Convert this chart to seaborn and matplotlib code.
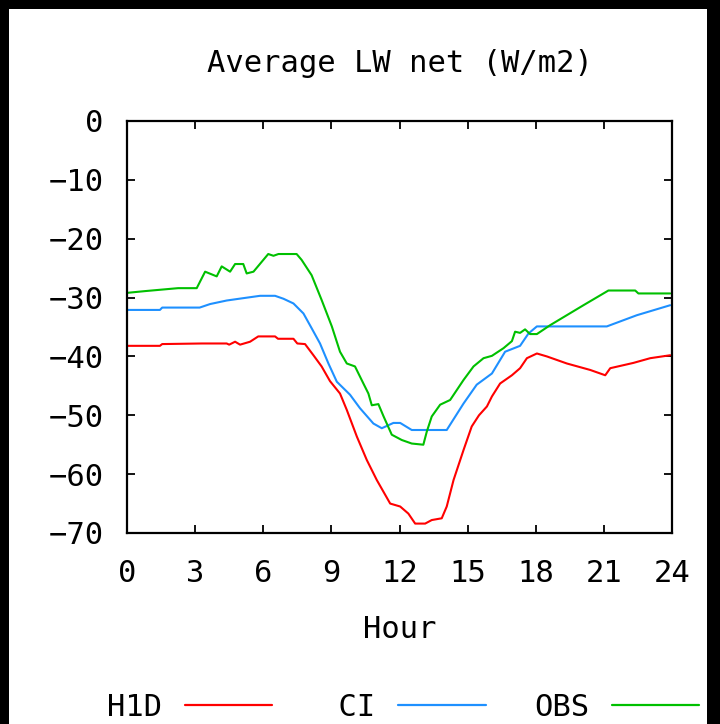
import matplotlib
matplotlib.use("Agg")
import matplotlib.pyplot as plt
import matplotlib.patches as mpatches
import numpy as np
import pandas as pd
import seaborn as sns

# Hourly-average net longwave radiation, three sources
h1d_hour = [0.0, 1.45, 1.55, 3.3, 4.39, 4.5, 4.76, 4.98, 5.42, 5.78, 6.52, 6.65,
            7.33, 7.5, 7.84, 8.21, 8.57, 8.94, 9.38, 9.68, 10.12, 10.56, 11.0,
            11.59, 12.03, 12.39, 12.69, 13.13, 13.42, 13.86, 14.08, 14.38, 14.82,
            15.18, 15.5, 15.85, 16.07, 16.43, 16.95, 17.31, 17.61, 18.05, 18.49,
            19.37, 20.4, 21.06, 21.28, 22.3, 23.04, 23.92]
h1d_value = [-38.2, -38.2, -37.9, -37.8, -37.8, -38.0, -37.5, -38.0, -37.5, -36.6,
             -36.6, -37.0, -37.0, -37.8, -37.9, -39.8, -41.7, -44.2, -46.3, -49.1,
             -53.6, -57.6, -61.0, -65.0, -65.5, -66.7, -68.4, -68.4, -67.8, -67.5,
             -65.5, -61.0, -55.9, -51.9, -50.0, -48.5, -46.8, -44.6, -43.2, -42.0,
             -40.3, -39.5, -40.0, -41.2, -42.3, -43.2, -42.0, -41.1, -40.3, -39.8]

ci_hour = [0.0, 1.45, 1.55, 3.2, 3.66, 4.39, 5.12, 5.86, 6.52, 6.89, 7.33, 7.77,
           8.13, 8.5, 8.87, 9.24, 9.82, 10.26, 10.85, 11.22, 11.73, 12.03, 12.54,
           14.08, 14.82, 15.4, 16.07, 16.65, 17.31, 17.68, 18.05, 21.13, 22.45,
           23.92]
ci_value = [-32.1, -32.1, -31.7, -31.7, -31.1, -30.5, -30.1, -29.7, -29.7, -30.2,
            -31.0, -32.7, -35.2, -37.8, -41.2, -44.3, -46.5, -48.8, -51.4, -52.2,
            -51.3, -51.3, -52.5, -52.5, -48.0, -44.8, -42.9, -39.2, -38.2, -36.1,
            -34.9, -34.9, -33.0, -31.3]

obs_hour = [0.0, 0.8, 2.25, 3.07, 3.44, 3.95, 4.17, 4.54, 4.76, 5.12, 5.27, 5.57,
            6.22, 6.45, 6.67, 7.47, 7.69, 8.13, 8.57, 9.02, 9.38, 9.68, 10.04,
            10.41, 10.63, 10.78, 11.07, 11.3, 11.66, 12.1, 12.54, 13.05, 13.2,
            13.42, 13.79, 14.23, 14.82, 15.26, 15.7, 16.07, 16.58, 16.95, 17.09,
            17.31, 17.53, 17.75, 18.05, 18.63, 20.1, 21.2, 22.38, 22.52, 23.92]
obs_value = [-29.2, -28.9, -28.4, -28.4, -25.6, -26.4, -24.7, -25.6, -24.3, -24.3,
             -25.9, -25.6, -22.6, -22.9, -22.6, -22.6, -23.6, -26.2, -30.4, -34.9,
             -39.2, -41.2, -41.7, -44.6, -46.3, -48.3, -48.1, -50.2, -53.3, -54.2,
             -54.8, -55.0, -52.8, -50.2, -48.2, -47.4, -44.0, -41.7, -40.3, -39.9,
             -38.6, -37.4, -35.8, -36.0, -35.4, -36.2, -36.2, -34.7, -31.3, -28.8,
             -28.8, -29.3, -29.3]

series_names = ["H1D", "CI", "OBS"]
series_colors = ["#ff0000", "#1e90ff", "#00c000"]
x_ticks = [0, 3, 6, 9, 12, 15, 18, 21, 24]
y_ticks = [0, -10, -20, -30, -40, -50, -60, -70]

frames = []
for name, hrs, vals in zip(series_names,
                           [h1d_hour, ci_hour, obs_hour],
                           [h1d_value, ci_value, obs_value]):
    frames.append(pd.DataFrame({"Hour": hrs, "LW": vals, "series": name}))
df = pd.concat(frames, ignore_index=True)

sns.set_style("white")
plt.rcParams["font.family"] = ["DejaVu Sans Mono"]
plt.rcParams["text.color"] = "black"
plt.rcParams["axes.labelcolor"] = "black"

W, H = 720, 724
fig = plt.figure(figsize=(W / 100, H / 100), dpi=100, facecolor="black")
# white page inside the dark frame
fig.patches.append(mpatches.Rectangle((9 / W, 0), (707 - 9) / W, (H - 9) / H,
                                      transform=fig.transFigure,
                                      facecolor="white", edgecolor="none",
                                      zorder=-10))

ax = fig.add_axes([127 / W, 1 - 533 / H, (672 - 127) / W, (533 - 121) / H])
ax.set_facecolor("white")

sns.lineplot(data=df, x="Hour", y="LW", hue="series", hue_order=series_names,
             palette=series_colors, sort=False, estimator=None, linewidth=1.5,
             ax=ax, legend=True)

ax.set_xlim(0, 24)
ax.set_ylim(-70, 0)
ax.set_xticks(x_ticks)
ax.set_yticks(y_ticks)
ax.set_xticklabels([str(t) for t in x_ticks])
ax.set_yticklabels([str(t).replace("-", "\u2212") for t in y_ticks])

for sp in ax.spines.values():
    sp.set_visible(True)
    sp.set_color("black")
    sp.set_linewidth(1.6)

ax.tick_params(axis="both", direction="in", length=5.5, width=1.3,
               colors="black", labelsize=22, top=True, right=True,
               bottom=True, left=True)
ax.tick_params(axis="y", pad=17)
ax.tick_params(axis="x", pad=18.5)

ax.set_title("Average LW net (W/m2)", fontsize=22, pad=35.5, color="black")
ax.set_xlabel("Hour", fontsize=22, labelpad=20, color="black")
ax.set_ylabel("")

# legend below the plot: label, then sample line
handles, labels = ax.get_legend_handles_labels()
ax.get_legend().remove()
for hd in handles:
    hd.set_linewidth(1.6)
padded = [lab.rjust(3) for lab in labels]
leg = fig.legend(handles, padded, loc="center left",
                 bbox_to_anchor=(107 / W, 1 - 707 / H), ncol=3, frameon=False,
                 markerfirst=False, fontsize=22, handlelength=2.85,
                 handletextpad=0.75, columnspacing=1.58, borderaxespad=0,
                 borderpad=0)
for t in leg.get_texts():
    t.set_color("black")

fig.savefig("out.png", dpi=100, facecolor=fig.get_facecolor())
